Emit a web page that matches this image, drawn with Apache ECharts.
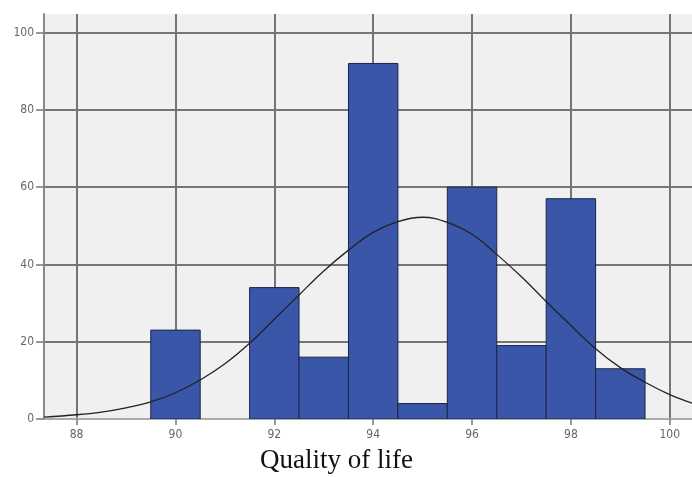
<!DOCTYPE html>
<html>
<head>
<meta charset="utf-8">
<script src="https://cdn.jsdelivr.net/npm/echarts@6/dist/echarts.min.js"></script>
<style>html,body{margin:0;padding:0;background:#fff;}#c{width:692px;height:477px;}</style>
</head>
<body>
<div id="c"></div>
<script>
// Histogram bins (centre of each 1-unit bin) and counts
var binCenters = [90, 91, 92, 93, 94, 95, 96, 97, 98, 99];
var binCounts  = [23, 0, 34, 16, 92, 4, 60, 19, 57, 13];
// Fitted normal curve
var curveX = [87.34, 88, 88.5, 89, 89.5, 90, 90.5, 91, 91.5, 92, 92.5, 93, 93.5, 94, 94.5, 95, 95.5, 96, 96.5, 97, 97.5, 98, 98.5, 99, 99.5, 100, 100.45];
var curveY = [0.5, 1.1, 1.8, 2.9, 4.4, 6.8, 10.1, 14.3, 19.6, 25.8, 32.1, 38.3, 43.7, 48.3, 51.1, 52.2, 50.9, 47.8, 42.6, 36.8, 30.4, 24.2, 18.2, 13.3, 9.5, 6.3, 4.1];
var xTicks = [88, 90, 92, 94, 96, 98, 100];
var yTicks = [0, 20, 40, 60, 80, 100];
var xTitle = 'Quality of life';

var chart = echarts.init(document.getElementById('c'));
var barData = binCenters.map(function (c, i) { return [c, binCounts[i]]; });
var curveData = curveX.map(function (x, i) { return [x, curveY[i]]; });

chart.setOption({
  animation: false,
  grid: { left: 44, right: 0, top: 14, bottom: 58, show: true, backgroundColor: '#eff0ef', borderWidth: 0 },
  xAxis: {
    type: 'value', min: 87.34, max: 100.45,
    axisLine: { show: true, onZero: false, lineStyle: { color: '#aaaaaa', width: 2 } },
    axisTick: { show: true, length: 6, customValues: xTicks, lineStyle: { color: '#777', width: 1.5 } },
    axisLabel: { customValues: xTicks, margin: 10, color: '#666', fontSize: 12, fontFamily: 'DejaVu Sans Condensed' },
    splitLine: { show: true, lineStyle: { color: '#757575', width: 2 } }
  },
  yAxis: {
    type: 'value', min: 0, max: 104.8,
    axisLine: { show: true, lineStyle: { color: '#8a8a8a', width: 2 } },
    axisTick: { show: true, length: 8, customValues: yTicks, lineStyle: { color: '#777', width: 1.5 } },
    axisLabel: { customValues: yTicks, margin: 10, color: '#666', fontSize: 12, fontFamily: 'DejaVu Sans Condensed' },
    splitLine: { show: true, lineStyle: { color: '#757575', width: 2 } }
  },
  graphic: [{
    type: 'text', left: 260, top: 447,
    style: { text: xTitle, fill: '#111', font: '27px "Liberation Serif"' }
  }],
  series: [{
    type: 'custom',
    data: barData,
    clip: true,
    renderItem: function (params, api) {
      var c = api.value(0), v = api.value(1);
      if (!v) return null;
      var p0 = api.coord([c - 0.5, v]);
      var p1 = api.coord([c + 0.5, 0]);
      return {
        type: 'rect',
        shape: { x: p0[0], y: p0[1], width: p1[0] - p0[0], height: p1[1] - p0[1] },
        style: { fill: '#3a56a8', stroke: '#1b2545', lineWidth: 1 }
      };
    },
    encode: { x: 0, y: 1 }
  }, {
    type: 'line',
    data: curveData,
    smooth: 0.4,
    showSymbol: false,
    clip: true,
    lineStyle: { color: '#222', width: 1.3 }
  }]
});
</script>
</body>
</html>
